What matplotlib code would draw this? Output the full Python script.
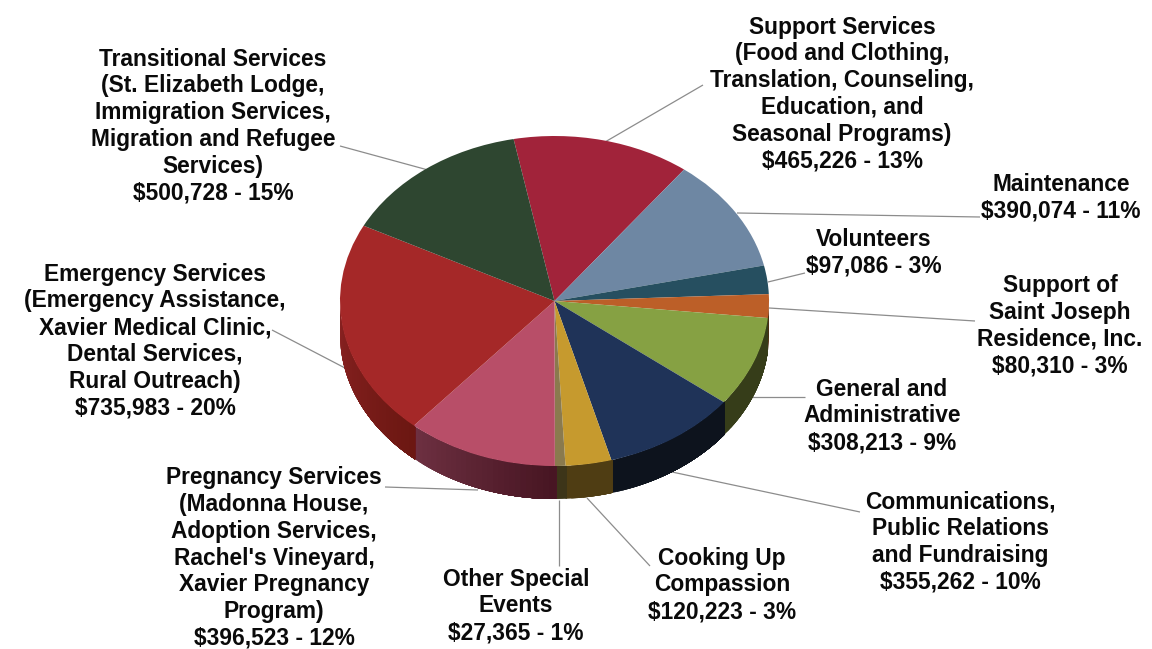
import numpy as np
import matplotlib
matplotlib.use("Agg")
import matplotlib.pyplot as plt
from matplotlib.colors import to_rgb

W, H = 1152, 649
CX, CY, RX, RY, DEPTH = 554.5, 301.0, 214.5, 165.0, 33.0

names = ["Support Services\n(Food and Clothing,\nTranslation, Counseling,\nEducation, and\nSeasonal Programs)",
         "Maintenance",
         "Volunteers",
         "Support of\nSaint Joseph\nResidence, Inc.",
         "General and\nAdministrative",
         "Communications,\nPublic Relations\nand Fundraising",
         "Cooking Up\nCompassion",
         "Other Special\nEvents",
         "Pregnancy Services\n(Madonna House,\nAdoption Services,\nRachel's Vineyard,\nXavier Pregnancy\nProgram)",
         "Emergency Services\n(Emergency Assistance,\nXavier Medical Clinic,\nDental Services,\nRural Outreach)",
         "Transitional Services\n(St. Elizabeth Lodge,\nImmigration Services,\nMigration and Refugee\nServices)"]
amounts = [465226, 390074, 97086, 80310, 308213, 355262, 120223, 27365, 396523, 735983, 500728]
percents = [13, 11, 3, 3, 9, 10, 3, 1, 12, 20, 15]

colors = ["#A1233A", "#6E87A3", "#264F60", "#BC5F28", "#86A143", "#1F3358",
          "#C69A2E", "#8A7A4E", "#B84E68", "#A52828", "#2E4630"]
side_left = ["#50121D", "#374352", "#132830", "#5E3014", "#363D19", "#0D131D",
             "#4F3D13", "#3D3519", "#6E3042", "#8A2222", "#17231A"]
side_right = ["#50121D", "#374352", "#132830", "#5E3014", "#363D19", "#0D131D",
              "#4F3D13", "#3D3519", "#471522", "#6C1712", "#17231A"]

label_xy = [(842, 94), (1061, 198), (874, 253), (1060, 326), (882, 416), (960, 542),
            (722, 585), (516, 606), (274, 558), (155, 341), (213, 126)]
leaders = [((703, 85), (605, 142)), ((737, 213), (980, 217)), ((768, 282), (805, 273)),
           ((769, 308), (975, 321)), ((752, 397), (805, 397)), ((672, 472), (860, 512)),
           ((587, 498), (650, 566)), ((559, 500), (559, 566)), ((385, 487), (478, 490)),
           ((272, 330), (345, 368)), ((340, 146), (428, 170))]
START_ANGLE = 101.0

plt.rcParams["font.family"] = ["Liberation Sans", "DejaVu Sans"]
fig = plt.figure(figsize=(W / 100, H / 100), dpi=100, facecolor="white")
ax = fig.add_axes([0, 0, 1, 1])

def dx(p):
    return (p - CX) / RX

def dy(p):
    return (CY - p) / RY

# leader lines go beneath the pie
for a, b in leaders:
    ax.plot([dx(a[0]), dx(b[0])], [dy(a[1]), dy(b[1])], color="#8C8C8C", lw=0.9, zorder=1,
            solid_capstyle="butt")

# side wall, split into overlapping vertical strips per slice
shift = DEPTH / RY
vals = np.array(amounts, float)
sweeps = vals / vals.sum() * 360.0
edges = START_ANGLE - np.concatenate([[0], np.cumsum(sweeps)])
for i in range(len(vals)):
    hi, lo = edges[i], edges[i + 1]
    # visible part of the wall is the lower half: 180..360 degrees
    for k in (0, -360, 360):
        h = min(hi + k, 360.0)
        l = max(lo + k, 180.0)
        if h <= l:
            continue
        n = max(int((h - l) / 1.5), 1)
        steps = np.linspace(l, h, n + 1)
        cl, cr = np.array(to_rgb(side_left[i])), np.array(to_rgb(side_right[i]))
        end = min(h + 0.4, 360.0)
        for j in range(n):
            # each strip runs on to the slice's right end, so later strips paint over it
            t = np.radians(np.linspace(steps[j], end, max(n - j, 1) * 3 + 1))
            f = (j + 0.5) / n
            c = cl * (1 - f) + cr * f
            xs = np.concatenate([np.cos(t), np.cos(t[::-1])])
            ys = np.concatenate([np.sin(t), np.sin(t[::-1]) - shift])
            ax.fill(xs, ys, facecolor=c, edgecolor="none", lw=0, zorder=2)

# top face
wedges, _ = ax.pie(amounts, colors=colors, startangle=START_ANGLE, counterclock=False,
                   radius=1.0, center=(0, 0), frame=True,
                   wedgeprops=dict(linewidth=0))
for w in wedges:
    w.set_zorder(3)

ax.set_aspect("auto")
ax.set_xlim(dx(0), dx(W))
ax.set_ylim(dy(H), dy(0))
ax.axis("off")

for name, amt, pct, (x, y) in zip(names, amounts, percents, label_xy):
    ax.text(dx(x), dy(y), f"{name}\n${amt:,} - {pct}%", ha="center", va="center",
            ma="center", fontsize=16.4, fontweight="bold", color="#0A0A0A",
            linespacing=1.21, zorder=5)

fig.savefig("out.png", dpi=100, facecolor="white")
